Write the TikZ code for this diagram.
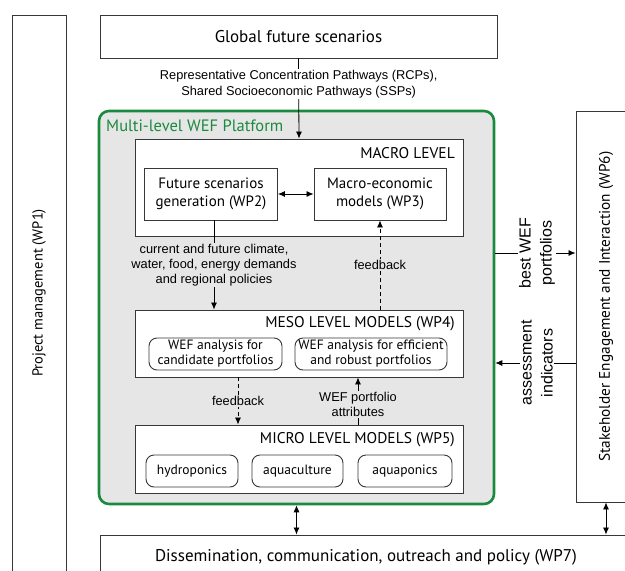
\documentclass[tikz,border=0pt]{standalone}
\usepackage{fontspec}
\setmainfont{PT Sans}
\newfontfamily\arialf{Liberation Sans}
\usetikzlibrary{arrows.meta,calc}
\definecolor{wefgreen}{RGB}{26,138,62}
\definecolor{platgray}{RGB}{230,230,230}
\definecolor{boxline}{RGB}{55,55,55}
\begin{document}
\begin{tikzpicture}[x=1pt,y=-1pt,
  box/.style={draw=boxline,line width=0.9pt,fill=white,inner sep=0pt,align=center,font=\fontsize{17}{19}\selectfont},
  inbox/.style={box,font=\fontsize{15}{18}\selectfont},
  rbox/.style={inbox,rounded corners=8pt,minimum height=32pt,font=\fontsize{13.5}{15}\selectfont},
  elab/.style={font=\arialf\fontsize{12.8}{15.3}\selectfont,align=center,inner sep=1pt},
  vlab/.style={font=\arialf\fontsize{16}{21}\selectfont,align=center,inner sep=1pt,rotate=90,fill=white},
  ttl/.style={font=\fontsize{15.5}{17}\selectfont,inner sep=0pt},
  arr/.style={line width=0.8pt,-{Latex[length=7pt,width=6pt]}},
  darr/.style={line width=0.8pt,{Latex[length=7pt,width=6pt]}-{Latex[length=7pt,width=6pt]}},
  dashline/.style={dash pattern=on 4pt off 3pt}
]
\useasboundingbox[fill=white] (0,0) rectangle (625,571);
% outer boxes
\node[box,minimum width=54pt,minimum height=560pt] (pm) at (39,295) {};
\node[rotate=90,font=\fontsize{14.5}{16}\selectfont] at (39,293) {Project management (WP1)};
\node[box,minimum width=397pt,minimum height=43pt] (glob) at (298.5,36.5) {Global future scenarios};
\node[box,minimum width=64pt,minimum height=391pt] (stake) at (608,306.5) {};
\node[rotate=90,font=\fontsize{15.3}{17}\selectfont] at (606,306.5) {Stakeholder Engagement and Interaction (WP6)};
\node[box,minimum width=540pt,minimum height=45pt] (diss) at (370,557.5) {};
\node[font=\fontsize{17}{19}\selectfont] at (366,557) {Dissemination, communication, outreach and policy (WP7)};
% platform
\node[draw=wefgreen,line width=2.6pt,fill=platgray,rounded corners=10pt,minimum width=395pt,minimum height=393pt] (plat) at (296.5,307.5) {};
\node[ttl,font=\fontsize{16.5}{18}\selectfont,text=wefgreen,anchor=west] at (106,126) {Multi-level WEF Platform};
% macro
\node[box,minimum width=328pt,minimum height=97pt] (macro) at (299,187.5) {};
\node[ttl,anchor=east] at (455,153) {MACRO LEVEL};
\node[inbox,minimum width=133pt,minimum height=52pt] (fsg) at (211,194) {Future scenarios\\generation (WP2)};
\node[inbox,minimum width=132pt,minimum height=52pt] (mem) at (380,194) {Macro-economic\\models (WP3)};
% meso
\node[box,minimum width=328pt,minimum height=67pt] (meso) at (299,343.5) {};
\node[ttl,anchor=east] at (455,324) {MESO LEVEL MODELS (WP4)};
\node[rbox,minimum width=133pt] (wefa) at (215.5,354) {WEF analysis for\\candidate portfolios};
\node[rbox,minimum width=152pt] (wefb) at (371,354) {WEF analysis for efficient\\and robust portfolios};
% micro
\node[box,minimum width=328pt,minimum height=68pt] (micro) at (299,459) {};
\node[ttl,anchor=east] at (455,440) {MICRO LEVEL MODELS (WP5)};
\node[rbox,minimum width=92pt] (hydro) at (192,471) {hydroponics};
\node[rbox,minimum width=91pt] (aquac) at (297.5,471) {aquaculture};
\node[rbox,minimum width=94pt] (aquap) at (405,471) {aquaponics};
% connectors
\draw[arr] (glob.south) -- node[elab,fill=white,pos=0.32] {Representative Concentration Pathways (RCPs),\\Shared Socioeconomic Pathways (SSPs)} (macro.north);
\draw[darr] (fsg.east) -- (mem.west);
\draw[arr] ([xshift=3pt]fsg.south) -- node[elab,fill=platgray] {current and future climate,\\water, food, energy demands\\and regional policies} ([xshift=3pt]fsg.south |- meso.north);
\draw[arr,dashline] (mem.south |- meso.north) -- node[elab,fill=platgray] {feedback} (mem.south);
\draw[arr,dashline] ([xshift=-61pt]meso.south) -- node[elab,fill=platgray] {feedback} ([xshift=-61pt]micro.north);
\draw[arr] ([xshift=59pt]micro.north) -- node[elab,fill=platgray,pos=0.42] {WEF portfolio\\attributes} ([xshift=59pt]meso.south);
\draw[arr] ([yshift=54.5pt]plat.east) -- node[vlab,pos=0.52] {best WEF\\portfolios} ([yshift=54.5pt]plat.east -| stake.west);
\draw[arr] ([yshift=-55.5pt]plat.east -| stake.west) -- node[vlab,pos=0.48] {assessment\\indicators} ([yshift=-55.5pt]plat.east);
\draw[darr] (plat.south) -- (plat.south |- diss.north);
\draw[darr] ([xshift=-2pt]stake.south) -- ([xshift=-2pt]stake.south |- diss.north);
\end{tikzpicture}
\end{document}
